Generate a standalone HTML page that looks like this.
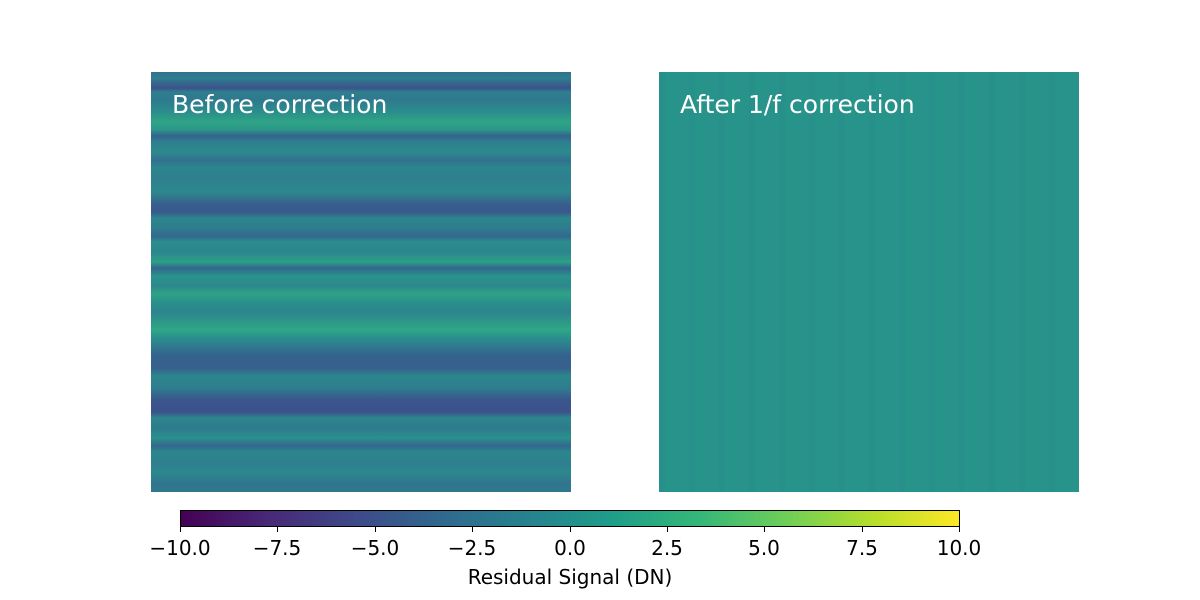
<!DOCTYPE html>
<html><head><style>
html,body{margin:0;padding:0;background:#fff;width:1200px;height:600px;overflow:hidden;font-family:"DejaVu Sans",sans-serif}
.im{position:absolute;top:72px;width:420px;height:420px}
#a{left:151px;background:linear-gradient(to bottom,
#33708e 0px,#2e7f8e 6px,#3b518b 16px,#2e7f8e 20px,#2f798e 28px,#2a8e8c 40px,#2fa486 50px,#2a968a 58px,#35628d 64px,#2e7f8e 70px,#2b8a8d 80px,#33708e 88px,#2c868d 96px,#2e7f8e 106px,#2c888d 120px,#38608d 132px,#39588c 140px,#2c868d 146px,#2e7d8e 156px,#34688e 164px,#2a8d8c 170px,#2c868d 180px,#2ba087 190px,#34658e 196px,#2a938b 204px,#2c888d 214px,#2ea386 222px,#2a908c 230px,#2c848d 240px,#2fa785 258px,#2a948b 264px,#2e7f8e 272px,#35628d 284px,#37608d 296px,#2c868d 304px,#2e7d8e 316px,#3a558c 328px,#3b528b 340px,#2c868d 346px,#2f7a8e 356px,#2a908c 366px,#34688e 374px,#2c868d 380px,#2e7f8e 392px,#2c888d 400px,#30758e 412px,#2f798e 420px)}
#b{left:659px;background:#27938b}
#b:after{content:"";position:absolute;left:0;top:0;right:0;bottom:0;background:repeating-linear-gradient(to right,rgba(40,120,140,.10) 0 6px,rgba(40,160,130,.06) 6px 14px,rgba(40,120,140,0) 14px 30px)}
.t{position:absolute;color:#fff;font-size:25px;top:90px;line-height:30px}
#cb{position:absolute;left:180px;top:510px;width:778px;height:15px;border:1px solid #000;background:linear-gradient(to right,#440154,#482878,#3e4989,#31688e,#26828e,#1f9e89,#35b779,#6ece58,#b5de2b,#fde725)}
.tk{position:absolute;top:526px;width:1px;height:6px;background:#000}
.tl{position:absolute;top:536px;font-size:20px;line-height:24px;width:120px;text-align:center;margin-left:-60px}
</style></head><body>
<div class="im" id="a"></div>
<div class="im" id="b"></div>
<div class="t" style="left:172px">Before correction</div>
<div class="t" style="left:680px">After 1/f correction</div>
<div id="cb"></div>
<div class="tk" style="left:180px"></div><div class="tk" style="left:277px"></div><div class="tk" style="left:375px"></div><div class="tk" style="left:472px"></div><div class="tk" style="left:570px"></div><div class="tk" style="left:667px"></div><div class="tk" style="left:764px"></div><div class="tk" style="left:862px"></div><div class="tk" style="left:959px"></div>
<div class="tl" style="left:180px">−10.0</div><div class="tl" style="left:277px">−7.5</div><div class="tl" style="left:375px">−5.0</div><div class="tl" style="left:472px">−2.5</div><div class="tl" style="left:570px">0.0</div><div class="tl" style="left:667px">2.5</div><div class="tl" style="left:764px">5.0</div><div class="tl" style="left:862px">7.5</div><div class="tl" style="left:959px">10.0</div>
<div style="position:absolute;left:370px;width:400px;text-align:center;top:565px;font-size:20px;line-height:24px">Residual Signal (DN)</div>
</body></html>
